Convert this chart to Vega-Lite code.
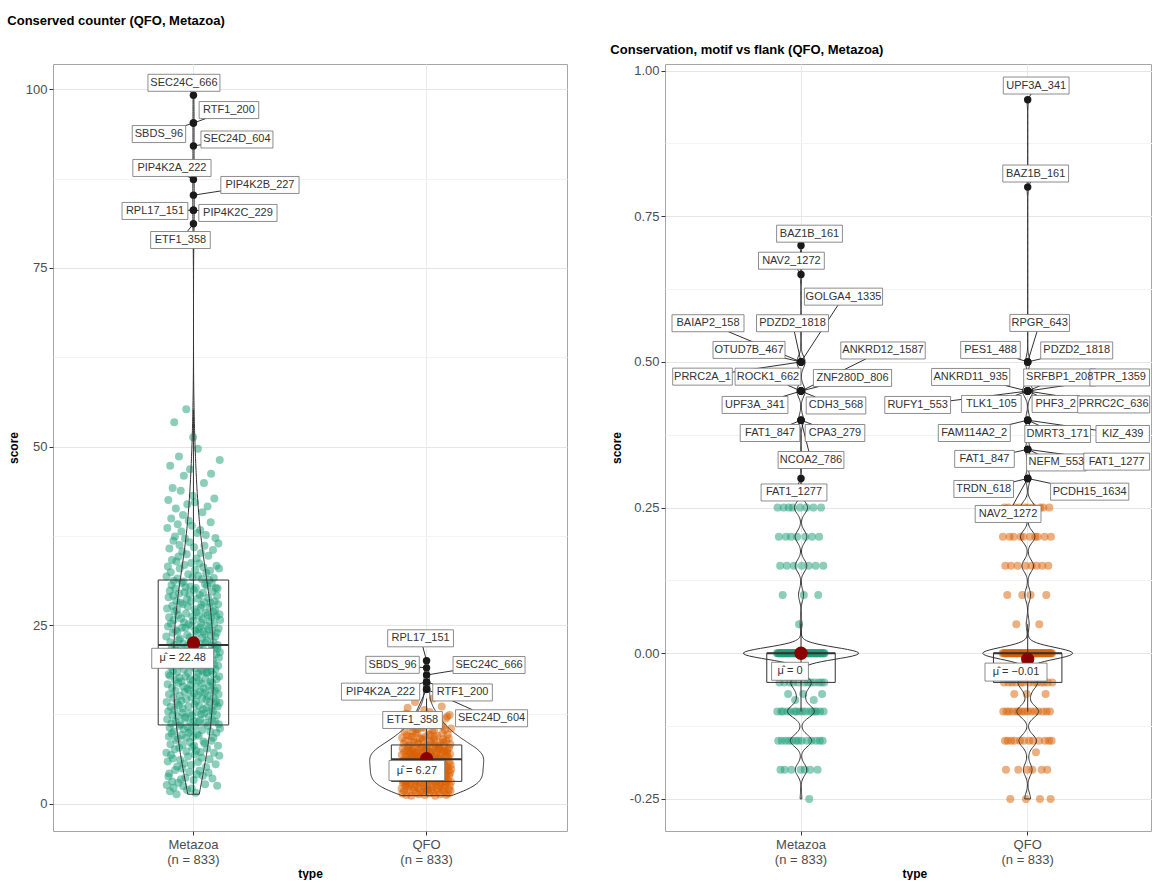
{
  "$schema": "https://vega.github.io/schema/vega-lite/v6.json",
  "background": "white",
  "padding": {"left": 6, "top": 11, "right": 0, "bottom": 0},
  "spacing": 41,
  "config": {
    "font": "Liberation Sans",
    "view": {"stroke": "#a6a6a6", "strokeWidth": 1},
    "axis": {"labelFontSize": 13, "labelColor": "#4d4d4d", "tickColor": "#333333", "tickSize": 4, "labelPadding": 2, "domain": false, "titleFontSize": 12, "titleFontWeight": "bold", "titleColor": "#000000", "gridColor": "#e8e8e8"},
    "title": {"fontSize": 13, "fontWeight": "bold", "color": "#000000", "anchor": "start", "frame": "bounds", "baseline": "bottom"}
  },
  "params": [
    {"name": "oLM", "value": {"SEC24C_666": [-9.5, -12.4], "RTF1_200": [35.5, -13], "SBDS_96": [-34.5, 11], "SEC24D_604": [43.5, -6.4], "PIP4K2A_222": [-21.5, -11.5], "PIP4K2B_227": [66.5, -10.2], "RPL17_151": [-38.5, 0.8], "PIP4K2C_229": [44.5, 2.8], "ETF1_358": [-13, 16.3]}},
    {"name": "oLQ", "value": {"RPL17_151": [-6, -22.4], "SBDS_96": [-34, -3], "SEC24C_666": [62.5, -10], "PIP4K2A_222": [-46, 9.5], "RTF1_200": [36, 10.3], "ETF1_358": [-14, 30.7], "SEC24D_604": [65, 29]}},
    {"name": "oRM", "value": {"BAZ1B_161": [8.5, -11.7], "NAV2_1272": [-9.6, -13.8], "GOLGA4_1335": [42.5, -65.3], "BAIAP2_158": [-93, -38.7], "PDZD2_1818": [-8.5, -38.7], "OTUD7B_467": [-52, -12], "PRRC2A_1": [-98.5, 14.7], "ROCK1_662": [-33, -14.4], "ANKRD12_1587": [82, -40.6], "ZNF280D_806": [51.5, -13.1], "UPF3A_341": [-46, 13.9], "CDH3_568": [35, 14.4], "FAT1_847": [-31, 12.8], "CPA3_279": [34, 12.8], "NCOA2_786": [10, 39.8], "FAT1_1277": [-7, 14]}},
    {"name": "oRQ", "value": {"UPF3A_341": [8.5, -14.2], "BAZ1B_161": [8, -13.6], "RPGR_643": [12, -39], "PES1_488": [-37.2, -12], "PDZD2_1818": [49, -11.5], "ANKRD11_935": [-57, -14.1], "SRFBP1_208": [32, -13.6], "TPR_1359": [92, -13.6], "RUFY1_553": [-110, 13.9], "TLK1_105": [-36.3, 12.9], "PHF3_2": [28, 12.9], "PRRC2C_636": [86, 13.4], "FAM114A2_2": [-53.4, 12.8], "DMRT3_171": [30, 13.8], "KIZ_439": [95, 13.8], "FAT1_847": [-43.2, 9.6], "NEFM_553": [28.7, 13.1], "FAT1_1277": [89, 12.3], "TRDN_618": [-44, 10.5], "PCDH15_1634": [62, 13.2], "NAV2_1272": [-19.6, 35.5]}},
    {"name": "mL", "value": {"Metazoa": [-10.7, 15.3], "QFO": [-9.7, 11.8]}},
    {"name": "mR", "value": {"Metazoa": [-11, 18], "QFO": [-11.7, 13]}}
  ],
  "datasets": {
    "sumL": [
      {"type": "Metazoa", "lo": 1.3, "q1": 11, "median": 22.2, "q3": 31.3, "hi": 55.2, "mean": 22.48, "mtext": "μ̂ = 22.48"},
      {"type": "QFO", "lo": 1.1, "q1": 3.1, "median": 6.2, "q3": 8.2, "hi": 14.7, "mean": 6.27, "mtext": "μ̂ = 6.27"}
    ],
    "sumR": [
      {"type": "Metazoa", "lo": -0.1, "q1": -0.05, "median": 0, "q3": 0, "hi": 0.05, "mean": 0, "mtext": "μ̂ = 0"},
      {"type": "QFO", "lo": -0.1, "q1": -0.05, "median": 0, "q3": 0, "hi": 0.05, "mean": -0.01, "mtext": "μ̂ = −0.01"}
    ],
    "lm": [
      {"score":23.4},{"score":7.1},{"score":31.8},{"score":14.2},{"score":2.6},{"score":19.5},{"score":27.3},{"score":11.8},{"score":38.6},{"score":21.1},{"score":16.7},{"score":5.9},{"score":33.2},{"score":24.8},{"score":12.9},{"score":42.5},{"score":3.8},{"score":28.9},{"score":18.1},{"score":9.4},
      {"score":15.3},{"score":26.1},{"score":4.2},{"score":35.7},{"score":20.4},{"score":10.6},{"score":29.8},{"score":1.7},{"score":17.9},{"score":47.3},{"score":22.6},{"score":8.3},{"score":13.5},{"score":32.4},{"score":25.2},{"score":6.8},{"score":19.1},{"score":39.9},{"score":11.2},{"score":30.6},
      {"score":9.8},{"score":21.9},{"score":34.1},{"score":16.2},{"score":3.1},{"score":27.7},{"score":12.4},{"score":44.2},{"score":23.9},{"score":6.3},{"score":18.6},{"score":29.1},{"score":14.8},{"score":36.8},{"score":2.2},{"score":25.7},{"score":10.1},{"score":31.2},{"score":20.8},{"score":53.4},
      {"score":26.9},{"score":13.1},{"score":7.6},{"score":22.2},{"score":37.4},{"score":17.3},{"score":4.7},{"score":30.1},{"score":15.8},{"score":24.3},{"score":11.5},{"score":41.3},{"score":19.8},{"score":8.9},{"score":28.4},{"score":33.9},{"score":1.3},{"score":21.4},{"score":14.1},{"score":27.1},
      {"score":18.4},{"score":5.2},{"score":24.1},{"score":31.5},{"score":12.2},{"score":39.1},{"score":20.1},{"score":9.1},{"score":26.4},{"score":16.9},{"score":2.9},{"score":34.6},{"score":22.9},{"score":13.8},{"score":48.6},{"score":29.4},{"score":7.8},{"score":17.6},{"score":36.2},{"score":10.9},
      {"score":32.9},{"score":15.1},{"score":23.1},{"score":6.1},{"score":19.3},{"score":28.1},{"score":11.1},{"score":43.8},{"score":21.7},{"score":3.4},{"score":25.9},{"score":14.4},{"score":38.1},{"score":17.1},{"score":9.6},{"score":30.9},{"score":24.6},{"score":4.9},{"score":12.7},{"score":35.3},
      {"score":20.6},{"score":8.2},{"score":27.9},{"score":13.3},{"score":40.4},{"score":16.4},{"score":2.4},{"score":22.4},{"score":31.1},{"score":10.4},{"score":45.9},{"score":18.8},{"score":25.4},{"score":5.6},{"score":33.4},{"score":15.6},{"score":29.6},{"score":11.9},{"score":19.6},{"score":37.1},
      {"score":12.1},{"score":24.6},{"score":3.6},{"score":30.3},{"score":17.8},{"score":9.2},{"score":26.6},{"score":21.3},{"score":55.2},{"score":14.6},{"score":7.3},{"score":34.9},{"score":19.9},{"score":28.6},{"score":1.9},{"score":23.6},{"score":41.9},{"score":16.1},{"score":10.7},{"score":27.6},
      {"score":22.1},{"score":6.6},{"score":18.3},{"score":32.1},{"score":13.6},{"score":25.1},{"score":39.6},{"score":9.9},{"score":20.3},{"score":15.9},{"score":4.4},{"score":29.3},{"score":12.6},{"score":36.6},{"score":23.3},{"score":8.6},{"score":46.8},{"score":17.4},{"score":30.4},{"score":11.3},
      {"score":16.6},{"score":28.3},{"score":10.2},{"score":21.6},{"score":5.4},{"score":33.7},{"score":14.9},{"score":24.9},{"score":2.1},{"score":19.2},{"score":38.9},{"score":12.3},{"score":26.2},{"score":7.9},{"score":31.7},{"score":22.7},{"score":43.1},{"score":17.2},{"score":9.3},{"score":51.3},
      {"score":25.6},{"score":11.6},{"score":19.4},{"score":3.3},{"score":29.9},{"score":15.4},{"score":35.9},{"score":8.1},{"score":22.9},{"score":13.9},{"score":27.2},{"score":6.9},{"score":42.2},{"score":18.9},{"score":32.7},{"score":10.8},{"score":24.2},{"score":1.5},{"score":16.3},{"score":30.2},
      {"score":14.3},{"score":21.2},{"score":7.4},{"score":26.8},{"score":17.7},{"score":34.3},{"score":12.8},{"score":4.1},{"score":23.8},{"score":37.9},{"score":9.7},{"score":20.9},{"score":28.7},{"score":15.2},{"score":49.7},{"score":5.8},{"score":31.9},{"score":18.2},{"score":11.4},{"score":24.4},
      {"score":21.8},{"score":9.5},{"score":26.3},{"score":17.2},{"score":33.6},{"score":13.7},{"score":4.6},{"score":24.7},{"score":19.7},{"score":29.2},{"score":11.7},{"score":38.3},{"score":22.3},{"score":15.7},{"score":7.2},{"score":27.4},{"score":18.7},{"score":35.1},{"score":25.3},{"score":12.5},
      {"score":16.8},{"score":27.8},{"score":6.4},{"score":20.2},{"score":31.4},{"score":14.7},{"score":23.2},{"score":10.3},{"score":40.8},{"score":18.5},{"score":25.8},{"score":3.9},{"score":29.5},{"score":13.2},{"score":21.5},{"score":33.1},{"score":8.7},{"score":24.1},{"score":16.1},{"score":44.9},
      {"score":28.2},{"score":12.6},{"score":19.6},{"score":36.1},{"score":8.4},{"score":23.7},{"score":15.5},{"score":30.7},{"score":2.7},{"score":22.5},{"score":17.5},{"score":26.7},{"score":11.3},{"score":37.6},{"score":20.7},{"score":5.1},{"score":32.3},{"score":14.5},{"score":24.9},{"score":18.3},
      {"score":13.4},{"score":22.8},{"score":30.5},{"score":7.7},{"score":18.4},{"score":26.4},{"score":41.6},{"score":15.1},{"score":21.1},{"score":10.9},{"score":28.8},{"score":19.2},{"score":34.7},{"score":4.3},{"score":24.4},{"score":16.5},{"score":12.2},{"score":31.3},{"score":20.5},{"score":27.5},
      {"score":19.9},{"score":6.2},{"score":25.5},{"score":14.2},{"score":32.6},{"score":21.3},{"score":10.1},{"score":28.1},{"score":17.1},{"score":39.4},{"score":23.5},{"score":13.1},{"score":46.2},{"score":18.6},{"score":8.8},{"score":26.1},{"score":15.9},{"score":30.8},{"score":22.1},{"score":11.7},
      {"score":24.2},{"score":16.9},{"score":3.5},{"score":29.7},{"score":20.1},{"score":12.9},{"score":35.5},{"score":18.1},{"score":26.9},{"score":9.2},{"score":22.6},{"score":14.8},{"score":31.6},{"score":7.1},{"score":25.1},{"score":19.5},{"score":42.7},{"score":13.9},{"score":28.3},{"score":21.9},
      {"score":15.8},{"score":27.1},{"score":11.5},{"score":23.4},{"score":37.2},{"score":18.8},{"score":5.5},{"score":30.2},{"score":20.9},{"score":14.3},{"score":26.2},{"score":9.9},{"score":33.3},{"score":17.4},{"score":23.9},{"score":12.4},{"score":29.1},{"score":2.5},{"score":21.7},{"score":16.2},
      {"score":30.1},{"score":13.6},{"score":22.2},{"score":8.1},{"score":27.9},{"score":19.3},{"score":36.4},{"score":15.3},{"score":24.5},{"score":11.1},{"score":20.4},{"score":32.9},{"score":17.8},{"score":6.7},{"score":26.5},{"score":14.1},{"score":48.1},{"score":21.2},{"score":10.5},{"score":25.7},
      {"score":99.2,"label":"SEC24C_666"},{"score":95.3,"label":"RTF1_200"},{"score":95.3,"label":"SBDS_96"},{"score":92.1,"label":"SEC24D_604"},{"score":87.4,"label":"PIP4K2A_222"},{"score":85.2,"label":"PIP4K2B_227"},{"score":83.1,"label":"RPL17_151"},{"score":83.1,"label":"PIP4K2C_229"},{"score":81.2,"label":"ETF1_358"}
    ],
    "lq": [
      {"score":4.3},{"score":2.1},{"score":6.8},{"score":3.5},{"score":9.2},{"score":1.4},{"score":5.6},{"score":7.7},{"score":2.9},{"score":4.8},{"score":11.3},{"score":3.2},{"score":6.1},{"score":8.4},{"score":5.1},{"score":1.8},{"score":7.2},{"score":3.9},{"score":10.1},{"score":4.6},
      {"score":5.9},{"score":3.1},{"score":8.8},{"score":2.4},{"score":6.5},{"score":4.1},{"score":12.6},{"score":1.2},{"score":7.4},{"score":5.3},{"score":2.7},{"score":9.6},{"score":3.7},{"score":6.2},{"score":4.9},{"score":13.4},{"score":2.2},{"score":7.9},{"score":5.5},{"score":3.3},
      {"score":6.1},{"score":7.3},{"score":8.2},{"score":9.4},
      {"score":2.6},{"score":6.9},{"score":4.4},{"score":1.6},{"score":8.1},{"score":5.2},{"score":3.4},{"score":10.7},{"score":7.1},{"score":2.8},{"score":4.2},{"score":6.4},{"score":1.1},{"score":9.3},{"score":5.8},{"score":3.8},{"score":7.6},{"score":11.8},{"score":4.7},{"score":6.6},
      {"score":6.8},{"score":10.1},{"score":7.7},{"score":8.9},
      {"score":7.3},{"score":1.9},{"score":5.4},{"score":3.6},{"score":8.6},{"score":2.3},{"score":6.3},{"score":4.5},{"score":14.2},{"score":3.1},{"score":5.7},{"score":9.9},{"score":2.5},{"score":7.1},{"score":4.0},{"score":1.5},{"score":6.7},{"score":3.3},{"score":10.4},{"score":5.0},
      {"score":6.4},{"score":9.8},{"score":7.1},{"score":8.5},
      {"score":3.9},{"score":6.1},{"score":2.2},{"score":8.3},{"score":4.9},{"score":1.3},{"score":7.5},{"score":5.6},{"score":12.1},{"score":3.2},{"score":6.6},{"score":2.8},{"score":9.1},{"score":4.3},{"score":5.2},{"score":1.7},{"score":7.8},{"score":3.7},{"score":11.1},{"score":4.6},
      {"score":10.6},{"score":6.6},{"score":7.9},{"score":9.1},
      {"score":5.1},{"score":2.9},{"score":7.0},{"score":4.2},{"score":1.6},{"score":8.9},{"score":3.5},{"score":6.2},{"score":2.4},{"score":10.6},{"score":5.9},{"score":3.8},{"score":13.1},{"score":4.7},{"score":6.8},{"score":1.2},{"score":7.4},{"score":2.1},{"score":9.4},{"score":5.3},
      {"score":8.0},{"score":6.2},{"score":11.2},{"score":7.5},
      {"score":2.5},{"score":4.4},{"score":6.4},{"score":1.8},{"score":8.2},{"score":3.3},{"score":5.7},{"score":7.6},{"score":2.0},{"score":4.8},{"score":11.6},{"score":3.0},{"score":6.0},{"score":9.7},{"score":5.4},{"score":1.4},{"score":7.2},{"score":3.6},{"score":12.8},{"score":4.1},
      {"score":8.7},{"score":9.6},{"score":6.9},{"score":7.2},
      {"score":6.5},{"score":3.4},{"score":1.9},{"score":5.0},{"score":8.7},{"score":2.6},{"score":4.5},{"score":7.3},{"score":3.9},{"score":10.2},{"score":6.1},{"score":2.3},{"score":5.6},{"score":14.7},{"score":4.0},{"score":1.5},{"score":7.9},{"score":3.1},{"score":9.0},{"score":5.8},
      {"score":10.3},{"score":8.3},{"score":6.5},{"score":9.3},
      {"score":4.6},{"score":1.1},{"score":6.9},{"score":3.7},{"score":5.3},{"score":8.0},{"score":2.7},{"score":4.3},{"score":7.0},{"score":11.4},{"score":3.2},{"score":5.9},{"score":2.1},{"score":9.5},{"score":6.3},{"score":1.7},{"score":4.9},{"score":12.3},{"score":3.5},{"score":7.5},
      {"score":7.8},{"score":11.7},{"score":8.1},{"score":6.3},
      {"score":3.0},{"score":5.5},{"score":2.4},{"score":7.7},{"score":4.1},{"score":6.7},{"score":1.3},{"score":8.5},{"score":3.8},{"score":5.1},{"score":10.9},{"score":2.8},{"score":6.2},{"score":4.4},{"score":13.6},{"score":1.9},{"score":7.1},{"score":3.4},{"score":9.8},{"score":5.7},
      {"score":9.0},{"score":7.4},{"score":10.8},{"score":8.6},
      {"score":6.0},{"score":2.2},{"score":4.7},{"score":8.1},{"score":1.6},{"score":5.5},{"score":3.1},{"score":7.4},{"score":10.3},{"score":2.6},{"score":4.2},{"score":6.6},{"score":3.6},{"score":11.9},{"score":5.0},{"score":1.2},{"score":8.8},{"score":4.0},{"score":2.9},{"score":7.2},
      {"score":6.7},{"score":12.2},{"score":7.6},{"score":9.7},
      {"score":5.2},{"score":3.3},{"score":1.4},{"score":6.4},{"score":4.6},{"score":9.1},{"score":2.0},{"score":7.8},{"score":3.9},{"score":5.8},{"score":12.4},{"score":2.5},{"score":6.9},{"score":4.3},{"score":8.3},{"score":1.8},{"score":5.4},{"score":3.0},{"score":10.5},{"score":4.8},
      {"score":20,"label":"RPL17_151"},{"score":19,"label":"SBDS_96"},{"score":18,"label":"SEC24C_666"},{"score":17,"label":"PIP4K2A_222"},{"score":17,"label":"RTF1_200"},{"score":16,"label":"ETF1_358"},{"score":16,"label":"SEC24D_604"}
    ],
    "rm": [
      {"score":0},{"score":-0.1},{"score":0.25},{"score":0},{"score":-0.15},{"score":0},{"score":0.2},{"score":0},{"score":-0.05},{"score":0},{"score":0.15},{"score":-0.2},{"score":0},{"score":-0.1},{"score":0},
      {"score":-0.15},{"score":0},{"score":0},{"score":0.1},{"score":-0.1},{"score":0},{"score":0.25},{"score":0},{"score":-0.05},{"score":-0.2},{"score":0},{"score":0},{"score":-0.15},{"score":0.2},{"score":0},
      {"score":0},{"score":0.15},{"score":0},{"score":-0.1},{"score":0},{"score":-0.07},{"score":0},{"score":0.25},{"score":-0.15},{"score":0},{"score":-0.05},{"score":0},{"score":-0.1},{"score":0},{"score":0.2},
      {"score":-0.2},{"score":0},{"score":0},{"score":-0.15},{"score":0.25},{"score":0},{"score":-0.05},{"score":0},{"score":0.15},{"score":0},{"score":-0.1},{"score":0},{"score":-0.08},{"score":0},{"score":-0.15},
      {"score":0},{"score":-0.1},{"score":0},{"score":0.2},{"score":0},{"score":0},{"score":-0.05},{"score":-0.15},{"score":0},{"score":0.05},{"score":0},{"score":-0.1},{"score":0.25},{"score":0},{"score":-0.2},
      {"score":0},{"score":0},{"score":-0.15},{"score":0.15},{"score":0},{"score":-0.1},{"score":0},{"score":-0.07},{"score":0},{"score":0.1},{"score":-0.05},{"score":0},{"score":-0.2},{"score":0},{"score":0.2},
      {"score":-0.1},{"score":0},{"score":0.25},{"score":0},{"score":-0.15},{"score":0},{"score":0},{"score":-0.05},{"score":0},{"score":0.15},{"score":0},{"score":-0.25},{"score":0},{"score":-0.1},{"score":-0.2},
      {"score":0},{"score":-0.05},{"score":0},{"score":-0.15},{"score":0},{"score":0.2},{"score":-0.1},{"score":0},{"score":0},{"score":0.25},{"score":-0.08},{"score":0},{"score":-0.05},{"score":0},{"score":-0.1},
      {"score":0},{"score":0.15},{"score":-0.15},{"score":0},{"score":-0.1},{"score":0},{"score":0},{"score":-0.2},{"score":0},{"score":0.1},{"score":-0.05},{"score":0},{"score":0.2},{"score":0},{"score":-0.15},
      {"score":-0.1},{"score":0},{"score":0},{"score":0.25},{"score":-0.05},{"score":0},{"score":-0.07},{"score":0},{"score":-0.15},{"score":0},{"score":0.15},{"score":-0.1},{"score":0},{"score":-0.05},{"score":0},
      {"score":0.7,"label":"BAZ1B_161"},{"score":0.65,"label":"NAV2_1272"},{"score":0.5,"label":"GOLGA4_1335"},{"score":0.5,"label":"BAIAP2_158"},{"score":0.5,"label":"PDZD2_1818"},{"score":0.5,"label":"OTUD7B_467"},{"score":0.5,"label":"PRRC2A_1"},{"score":0.45,"label":"ROCK1_662"},{"score":0.45,"label":"ANKRD12_1587"},{"score":0.45,"label":"ZNF280D_806"},{"score":0.45,"label":"UPF3A_341"},{"score":0.45,"label":"CDH3_568"},{"score":0.4,"label":"FAT1_847"},{"score":0.4,"label":"CPA3_279"},{"score":0.4,"label":"NCOA2_786"},{"score":0.3,"label":"FAT1_1277"}
    ],
    "rq": [
      {"score":0},{"score":0.2},{"score":-0.1},{"score":0},{"score":-0.05},{"score":0.25},{"score":0},{"score":-0.15},{"score":0.15},{"score":0},{"score":-0.2},{"score":0},{"score":-0.1},{"score":0},{"score":0.1},
      {"score":-0.15},{"score":0},{"score":0.25},{"score":-0.05},{"score":0},{"score":-0.1},{"score":0.2},{"score":0},{"score":-0.25},{"score":0},{"score":0.15},{"score":-0.15},{"score":0},{"score":-0.05},{"score":0},
      {"score":0},{"score":-0.1},{"score":0},{"score":0.2},{"score":0},{"score":-0.07},{"score":-0.15},{"score":0},{"score":0.25},{"score":0},{"score":-0.05},{"score":0.05},{"score":0},{"score":-0.1},{"score":0},
      {"score":0.15},{"score":0},{"score":-0.2},{"score":0},{"score":-0.1},{"score":0.25},{"score":0},{"score":-0.15},{"score":0},{"score":0.2},{"score":-0.05},{"score":0},{"score":-0.1},{"score":0},{"score":0.1},
      {"score":0},{"score":-0.05},{"score":0.2},{"score":0},{"score":-0.15},{"score":0},{"score":-0.1},{"score":0.25},{"score":0},{"score":0.15},{"score":-0.25},{"score":0},{"score":-0.07},{"score":0},{"score":-0.2},
      {"score":-0.1},{"score":0},{"score":0.25},{"score":0},{"score":-0.05},{"score":-0.15},{"score":0},{"score":0.2},{"score":0},{"score":0.1},{"score":-0.1},{"score":0},{"score":0.15},{"score":0},{"score":-0.2},
      {"score":0},{"score":-0.15},{"score":0},{"score":0.25},{"score":-0.05},{"score":0},{"score":-0.1},{"score":0},{"score":0.2},{"score":0},{"score":-0.17},{"score":0},{"score":0.15},{"score":-0.05},{"score":0},
      {"score":0.2},{"score":0},{"score":-0.1},{"score":0},{"score":-0.15},{"score":0.05},{"score":0},{"score":-0.25},{"score":0.25},{"score":0},{"score":-0.05},{"score":0},{"score":-0.2},{"score":0},{"score":0.15},
      {"score":0},{"score":-0.1},{"score":0.25},{"score":0},{"score":-0.05},{"score":0},{"score":0.2},{"score":-0.15},{"score":0},{"score":-0.07},{"score":0},{"score":0.1},{"score":-0.1},{"score":0},{"score":-0.2},
      {"score":-0.05},{"score":0},{"score":0.15},{"score":0},{"score":-0.15},{"score":0.25},{"score":0},{"score":-0.1},{"score":0},{"score":-0.25},{"score":0.2},{"score":0},{"score":-0.15},{"score":0},{"score":-0.05},
      {"score":0.95,"label":"UPF3A_341"},{"score":0.8,"label":"BAZ1B_161"},{"score":0.5,"label":"RPGR_643"},{"score":0.5,"label":"PES1_488"},{"score":0.5,"label":"PDZD2_1818"},{"score":0.45,"label":"ANKRD11_935"},{"score":0.45,"label":"SRFBP1_208"},{"score":0.45,"label":"TPR_1359"},{"score":0.45,"label":"RUFY1_553"},{"score":0.45,"label":"TLK1_105"},{"score":0.45,"label":"PHF3_2"},{"score":0.45,"label":"PRRC2C_636"},{"score":0.4,"label":"FAM114A2_2"},{"score":0.4,"label":"DMRT3_171"},{"score":0.4,"label":"KIZ_439"},{"score":0.35,"label":"FAT1_847"},{"score":0.35,"label":"NEFM_553"},{"score":0.35,"label":"FAT1_1277"},{"score":0.3,"label":"TRDN_618"},{"score":0.3,"label":"PCDH15_1634"},{"score":0.3,"label":"NAV2_1272"}
    ]
  },
  "hconcat": [
    {
      "width": 514, "height": 767,
      "title": {"text": "Conserved counter (QFO, Metazoa)", "offset": 36},
      "resolve": {"scale": {"x": "independent", "xOffset": "independent"}},
      "layer": [
        {"data": {"name": "lm"},
         "transform": [{"filter": "!isValid(datum.label)"}, {"window": [{"op": "row_number", "as": "k"}]}],
         "mark": {"type": "circle", "size": 64, "opacity": 0.5, "color": "#1b9e77"},
         "encoding": {
           "x": {"datum": "Metazoa", "type": "nominal", "scale": {"type": "band", "domain": ["Metazoa", "QFO"], "paddingInner": 0.6977, "paddingOuter": 0.4513},
                 "axis": {"title": "type", "grid": true, "gridColor": "#ebebeb", "bandPosition": 0.5, "labelAngle": 0, "labelExpr": "[datum.label, '(n = 833)']", "labelLineHeight": 15.5, "labelPadding": 3, "titlePadding": 2}},
           "xOffset": {"field": "k", "type": "nominal", "scale": {"range": [8, 62]}},
           "y": {"field": "score", "type": "quantitative", "scale": {"domain": [-3.85, 103.57], "zero": false, "nice": false},
                 "axis": {"title": "score", "values": [0, 12.5, 25, 37.5, 50, 62.5, 75, 87.5, 100], "labelExpr": "datum.value % 25 == 0 ? datum.label : ''", "labelOverlap": false, "titlePadding": 5,
                          "gridColor": {"condition": {"test": "datum.value % 25 != 0", "value": "#f3f3f3"}, "value": "#e6e6e6"},
                          "tickOpacity": {"condition": {"test": "datum.value % 25 != 0", "value": 0}, "value": 1}}}}},
        {"data": {"name": "lq"},
         "transform": [{"filter": "!isValid(datum.label)"}, {"window": [{"op": "row_number", "as": "k"}]}],
         "mark": {"type": "circle", "size": 64, "opacity": 0.5, "color": "#d95f02"},
         "encoding": {
           "x": {"datum": "QFO", "type": "nominal", "scale": {"type": "band", "domain": ["Metazoa", "QFO"], "paddingInner": 0.6977, "paddingOuter": 0.4513}, "axis": null},
           "xOffset": {"field": "k", "type": "nominal", "scale": {"range": [10, 60]}},
           "y": {"field": "score", "type": "quantitative", "scale": {"domain": [-3.85, 103.57], "zero": false, "nice": false}}}},
        {"data": {"name": "sumL"},
         "encoding": {"x": {"field": "type", "type": "nominal", "scale": {"type": "band", "domain": ["Metazoa", "QFO"], "paddingInner": 0.6977, "paddingOuter": 0.4513}, "axis": null}},
         "layer": [
           {"mark": {"type": "rule", "color": "#333333", "strokeWidth": 1},
            "encoding": {"y": {"field": "lo", "type": "quantitative", "scale": {"domain": [-3.85, 103.57], "zero": false, "nice": false}}, "y2": {"field": "hi"}}},
           {"mark": {"type": "bar", "fill": "transparent", "stroke": "#333333", "strokeWidth": 1},
            "encoding": {"y": {"field": "q1", "type": "quantitative", "scale": {"domain": [-3.85, 103.57], "zero": false, "nice": false}}, "y2": {"field": "q3"}}},
           {"mark": {"type": "tick", "size": 70.5, "thickness": 2, "color": "#333333", "opacity": 1},
            "encoding": {"y": {"field": "median", "type": "quantitative", "scale": {"domain": [-3.85, 103.57], "zero": false, "nice": false}}}}
         ]},
        {"data": {"name": "lm"},
         "transform": [{"density": "score", "bandwidth": 4, "extent": [1.3, 99.2], "steps": 300}],
         "mark": {"type": "area", "orient": "horizontal", "fill": "transparent", "stroke": "#333333", "strokeWidth": 1},
         "encoding": {
           "y": {"field": "value", "type": "quantitative", "scale": {"domain": [-3.85, 103.57], "zero": false, "nice": false}},
           "x": {"field": "density", "type": "quantitative", "stack": "center", "scale": {"range": [120.5, 160.5], "zero": true, "nice": false}, "axis": null}}},
        {"data": {"name": "lq"},
         "transform": [{"density": "score", "bandwidth": 1.1, "extent": [1.1, 20], "steps": 200}],
         "mark": {"type": "area", "orient": "horizontal", "fill": "transparent", "stroke": "#333333", "strokeWidth": 1},
         "encoding": {
           "y": {"field": "value", "type": "quantitative", "scale": {"domain": [-3.85, 103.57], "zero": false, "nice": false}},
           "x": {"field": "density", "type": "quantitative", "stack": "center", "scale": {"range": [316.7, 430.7], "zero": true, "nice": false}, "axis": null}}},
        {"layer": [
          {"data": {"name": "sumL"},
           "encoding": {"x": {"field": "type", "type": "nominal", "scale": {"type": "band", "domain": ["Metazoa", "QFO"], "paddingInner": 0.6977, "paddingOuter": 0.4513}, "axis": null},
                        "y": {"field": "mean", "type": "quantitative", "scale": {"domain": [-3.85, 103.57], "zero": false, "nice": false}}},
           "layer": [
             {"mark": {"type": "circle", "size": 177, "color": "#8b0000", "opacity": 1}},
             {"mark": {"type": "point", "filled": true, "fill": "#ffffff", "stroke": "#6e6e6e", "strokeWidth": 0.8, "opacity": 1, "size": 4,
                       "shape": {"expr": "'M'+(0.5-3.15*length(datum.mtext))+',-10H'+(3.15*length(datum.mtext)-0.5)+'V10H'+(0.5-3.15*length(datum.mtext))+'Z'"},
                       "xOffset": {"expr": "mL[datum.type][0]"}, "yOffset": {"expr": "mL[datum.type][1]"}}},
             {"mark": {"type": "text", "fontSize": 11, "color": "#333333", "dx": {"expr": "mL[datum.type][0]"}, "dy": {"expr": "mL[datum.type][1]"}},
              "encoding": {"text": {"field": "mtext"}}}
           ]},
          {"data": {"name": "lm"},
           "transform": [{"filter": "isValid(datum.label)"}],
           "encoding": {"x": {"datum": "Metazoa", "type": "nominal", "scale": {"type": "band", "domain": ["Metazoa", "QFO"], "paddingInner": 0.6977, "paddingOuter": 0.4513}, "axis": null},
                        "y": {"field": "score", "type": "quantitative", "scale": {"domain": [-3.85, 103.57], "zero": false, "nice": false}}},
           "layer": [
             {"mark": {"type": "circle", "size": 55, "color": "#1a1a1a", "opacity": 1}},
             {"mark": {"type": "rule", "color": "#1a1a1a", "strokeWidth": 0.9,
                       "x2Offset": {"expr": "oLM[datum.label][0]*(1-min(1,(3.1*length(datum.label)+5)/abs(oLM[datum.label][0]),8.5/abs(oLM[datum.label][1])))"},
                       "y2Offset": {"expr": "oLM[datum.label][1]*(1-min(1,(3.1*length(datum.label)+5)/abs(oLM[datum.label][0]),8.5/abs(oLM[datum.label][1])))"}},
              "encoding": {"x2": {"datum": "Metazoa"}, "y2": {"field": "score"}}},
             {"mark": {"type": "point", "filled": true, "fill": "#ffffff", "stroke": "#707070", "strokeWidth": 0.8, "opacity": 1, "size": 4,
                       "shape": {"expr": "'M'+(-3.1*length(datum.label)-5)+',-8.5H'+(3.1*length(datum.label)+5)+'V8.5H'+(-3.1*length(datum.label)-5)+'Z'"},
                       "xOffset": {"expr": "oLM[datum.label][0]"}, "yOffset": {"expr": "oLM[datum.label][1]"}}},
             {"mark": {"type": "text", "fontSize": 11, "color": "#333333", "dx": {"expr": "oLM[datum.label][0]"}, "dy": {"expr": "oLM[datum.label][1]"}},
              "encoding": {"text": {"field": "label"}}}
           ]},
          {"data": {"name": "lq"},
           "transform": [{"filter": "isValid(datum.label)"}],
           "encoding": {"x": {"datum": "QFO", "type": "nominal", "scale": {"type": "band", "domain": ["Metazoa", "QFO"], "paddingInner": 0.6977, "paddingOuter": 0.4513}, "axis": null},
                        "y": {"field": "score", "type": "quantitative", "scale": {"domain": [-3.85, 103.57], "zero": false, "nice": false}}},
           "layer": [
             {"mark": {"type": "circle", "size": 55, "color": "#1a1a1a", "opacity": 1}},
             {"mark": {"type": "rule", "color": "#1a1a1a", "strokeWidth": 0.9,
                       "x2Offset": {"expr": "oLQ[datum.label][0]*(1-min(1,(3.1*length(datum.label)+5)/abs(oLQ[datum.label][0]),8.5/abs(oLQ[datum.label][1])))"},
                       "y2Offset": {"expr": "oLQ[datum.label][1]*(1-min(1,(3.1*length(datum.label)+5)/abs(oLQ[datum.label][0]),8.5/abs(oLQ[datum.label][1])))"}},
              "encoding": {"x2": {"datum": "QFO"}, "y2": {"field": "score"}}},
             {"mark": {"type": "point", "filled": true, "fill": "#ffffff", "stroke": "#707070", "strokeWidth": 0.8, "opacity": 1, "size": 4,
                       "shape": {"expr": "'M'+(-3.1*length(datum.label)-5)+',-8.5H'+(3.1*length(datum.label)+5)+'V8.5H'+(-3.1*length(datum.label)-5)+'Z'"},
                       "xOffset": {"expr": "oLQ[datum.label][0]"}, "yOffset": {"expr": "oLQ[datum.label][1]"}}},
             {"mark": {"type": "text", "fontSize": 11, "color": "#333333", "dx": {"expr": "oLQ[datum.label][0]"}, "dy": {"expr": "oLQ[datum.label][1]"}},
              "encoding": {"text": {"field": "label"}}}
           ]}
        ]}
      ]
    },
    {
      "width": 486, "height": 767,
      "title": {"text": ["", "Conservation, motif vs flank (QFO, Metazoa)"], "lineHeight": 32, "offset": 7},
      "resolve": {"scale": {"x": "independent", "xOffset": "independent"}},
      "layer": [
        {"data": {"name": "rm"},
         "transform": [{"filter": "!isValid(datum.label)"}, {"window": [{"op": "row_number", "as": "k"}]}],
         "mark": {"type": "circle", "size": 64, "opacity": 0.5, "color": "#1b9e77"},
         "encoding": {
           "x": {"datum": "Metazoa", "type": "nominal", "scale": {"type": "band", "domain": ["Metazoa", "QFO"], "range": [0, 498.7], "paddingInner": 0.698, "paddingOuter": 0.449},
                 "axis": {"title": "type", "grid": true, "gridColor": "#ebebeb", "bandPosition": 0.5, "labelAngle": 0, "labelExpr": "[datum.label, '(n = 833)']", "labelLineHeight": 15.5, "labelPadding": 3, "titlePadding": 2}},
           "xOffset": {"field": "k", "type": "nominal", "scale": {"range": [10, 58]}},
           "y": {"field": "score", "type": "quantitative", "scale": {"domain": [-0.305, 1.0113], "zero": false, "nice": false},
                 "axis": {"title": "score", "values": [-0.25, -0.125, 0, 0.125, 0.25, 0.375, 0.5, 0.625, 0.75, 0.875, 1], "labelExpr": "abs(datum.value*4-round(datum.value*4)) < 0.01 ? replace(format(datum.value, '.2f'), '−', '-') : ''", "labelOverlap": false, "titlePadding": 6,
                          "gridColor": {"condition": {"test": "abs(datum.value*4-round(datum.value*4)) > 0.01", "value": "#f3f3f3"}, "value": "#e6e6e6"},
                          "tickOpacity": {"condition": {"test": "abs(datum.value*4-round(datum.value*4)) > 0.01", "value": 0}, "value": 1}}}}},
        {"data": {"name": "rq"},
         "transform": [{"filter": "!isValid(datum.label)"}, {"window": [{"op": "row_number", "as": "k"}]}],
         "mark": {"type": "circle", "size": 64, "opacity": 0.5, "color": "#d95f02"},
         "encoding": {
           "x": {"datum": "QFO", "type": "nominal", "scale": {"type": "band", "domain": ["Metazoa", "QFO"], "range": [0, 498.7], "paddingInner": 0.698, "paddingOuter": 0.449}, "axis": null},
           "xOffset": {"field": "k", "type": "nominal", "scale": {"range": [9, 59]}},
           "y": {"field": "score", "type": "quantitative", "scale": {"domain": [-0.305, 1.0113], "zero": false, "nice": false}}}},
        {"data": {"name": "sumR"},
         "encoding": {"x": {"field": "type", "type": "nominal", "scale": {"type": "band", "domain": ["Metazoa", "QFO"], "range": [0, 498.7], "paddingInner": 0.698, "paddingOuter": 0.449}, "axis": null}},
         "layer": [
           {"mark": {"type": "rule", "color": "#333333", "strokeWidth": 1},
            "encoding": {"y": {"field": "lo", "type": "quantitative", "scale": {"domain": [-0.305, 1.0113], "zero": false, "nice": false}}, "y2": {"field": "hi"}}},
           {"mark": {"type": "bar", "fill": "transparent", "stroke": "#333333", "strokeWidth": 1},
            "encoding": {"y": {"field": "q1", "type": "quantitative", "scale": {"domain": [-0.305, 1.0113], "zero": false, "nice": false}}, "y2": {"field": "q3"}}},
           {"mark": {"type": "tick", "size": 68.5, "thickness": 2, "color": "#333333", "opacity": 1},
            "encoding": {"y": {"field": "median", "type": "quantitative", "scale": {"domain": [-0.305, 1.0113], "zero": false, "nice": false}}}}
         ]},
        {"data": {"name": "rm"},
         "transform": [{"density": "score", "bandwidth": 0.01, "extent": [-0.25, 0.7], "steps": 500}],
         "mark": {"type": "area", "orient": "horizontal", "fill": "transparent", "stroke": "#333333", "strokeWidth": 1},
         "encoding": {
           "y": {"field": "value", "type": "quantitative", "scale": {"domain": [-0.305, 1.0113], "zero": false, "nice": false}},
           "x": {"field": "density", "type": "quantitative", "stack": "center", "scale": {"range": [78.5, 193.5], "zero": true, "nice": false}, "axis": null}}},
        {"data": {"name": "rq"},
         "transform": [{"density": "score", "bandwidth": 0.01, "extent": [-0.25, 0.95], "steps": 600}],
         "mark": {"type": "area", "orient": "horizontal", "fill": "transparent", "stroke": "#333333", "strokeWidth": 1},
         "encoding": {
           "y": {"field": "value", "type": "quantitative", "scale": {"domain": [-0.305, 1.0113], "zero": false, "nice": false}},
           "x": {"field": "density", "type": "quantitative", "stack": "center", "scale": {"range": [317.7, 407.7], "zero": true, "nice": false}, "axis": null}}},
        {"layer": [
          {"data": {"name": "sumR"},
           "encoding": {"x": {"field": "type", "type": "nominal", "scale": {"type": "band", "domain": ["Metazoa", "QFO"], "range": [0, 498.7], "paddingInner": 0.698, "paddingOuter": 0.449}, "axis": null},
                        "y": {"field": "mean", "type": "quantitative", "scale": {"domain": [-0.305, 1.0113], "zero": false, "nice": false}}},
           "layer": [
             {"mark": {"type": "circle", "size": 177, "color": "#8b0000", "opacity": 1}},
             {"mark": {"type": "point", "filled": true, "fill": "#ffffff", "stroke": "#6e6e6e", "strokeWidth": 0.8, "opacity": 1, "size": 4,
                       "shape": {"expr": "'M'+(0.5-3.15*length(datum.mtext))+',-9H'+(3.15*length(datum.mtext)-0.5)+'V9H'+(0.5-3.15*length(datum.mtext))+'Z'"},
                       "xOffset": {"expr": "mR[datum.type][0]"}, "yOffset": {"expr": "mR[datum.type][1]"}}},
             {"mark": {"type": "text", "fontSize": 11, "color": "#333333", "dx": {"expr": "mR[datum.type][0]"}, "dy": {"expr": "mR[datum.type][1]"}},
              "encoding": {"text": {"field": "mtext"}}}
           ]},
          {"data": {"name": "rm"},
           "transform": [{"filter": "isValid(datum.label)"}],
           "encoding": {"x": {"datum": "Metazoa", "type": "nominal", "scale": {"type": "band", "domain": ["Metazoa", "QFO"], "range": [0, 498.7], "paddingInner": 0.698, "paddingOuter": 0.449}, "axis": null},
                        "y": {"field": "score", "type": "quantitative", "scale": {"domain": [-0.305, 1.0113], "zero": false, "nice": false}}},
           "layer": [
             {"mark": {"type": "circle", "size": 55, "color": "#1a1a1a", "opacity": 1}},
             {"mark": {"type": "rule", "color": "#1a1a1a", "strokeWidth": 0.9, "clip": true,
                       "x2Offset": {"expr": "oRM[datum.label][0]*(1-min(1,(3.1*length(datum.label)+5)/abs(oRM[datum.label][0]),8.5/abs(oRM[datum.label][1])))"},
                       "y2Offset": {"expr": "oRM[datum.label][1]*(1-min(1,(3.1*length(datum.label)+5)/abs(oRM[datum.label][0]),8.5/abs(oRM[datum.label][1])))"}},
              "encoding": {"x2": {"datum": "Metazoa"}, "y2": {"field": "score"}}},
             {"mark": {"type": "point", "filled": true, "fill": "#ffffff", "stroke": "#707070", "strokeWidth": 0.8, "opacity": 1, "size": 4, "clip": true,
                       "shape": {"expr": "'M'+(-3.1*length(datum.label)-5)+',-8.5H'+(3.1*length(datum.label)+5)+'V8.5H'+(-3.1*length(datum.label)-5)+'Z'"},
                       "xOffset": {"expr": "oRM[datum.label][0]"}, "yOffset": {"expr": "oRM[datum.label][1]"}}},
             {"mark": {"type": "text", "fontSize": 11, "color": "#333333", "clip": true, "dx": {"expr": "oRM[datum.label][0]"}, "dy": {"expr": "oRM[datum.label][1]"}},
              "encoding": {"text": {"field": "label"}}}
           ]},
          {"data": {"name": "rq"},
           "transform": [{"filter": "isValid(datum.label)"}],
           "encoding": {"x": {"datum": "QFO", "type": "nominal", "scale": {"type": "band", "domain": ["Metazoa", "QFO"], "range": [0, 498.7], "paddingInner": 0.698, "paddingOuter": 0.449}, "axis": null},
                        "y": {"field": "score", "type": "quantitative", "scale": {"domain": [-0.305, 1.0113], "zero": false, "nice": false}}},
           "layer": [
             {"mark": {"type": "circle", "size": 55, "color": "#1a1a1a", "opacity": 1}},
             {"mark": {"type": "rule", "color": "#1a1a1a", "strokeWidth": 0.9, "clip": true,
                       "x2Offset": {"expr": "oRQ[datum.label][0]*(1-min(1,(3.1*length(datum.label)+5)/abs(oRQ[datum.label][0]),8.5/abs(oRQ[datum.label][1])))"},
                       "y2Offset": {"expr": "oRQ[datum.label][1]*(1-min(1,(3.1*length(datum.label)+5)/abs(oRQ[datum.label][0]),8.5/abs(oRQ[datum.label][1])))"}},
              "encoding": {"x2": {"datum": "QFO"}, "y2": {"field": "score"}}},
             {"mark": {"type": "point", "filled": true, "fill": "#ffffff", "stroke": "#707070", "strokeWidth": 0.8, "opacity": 1, "size": 4, "clip": true,
                       "shape": {"expr": "'M'+(-3.1*length(datum.label)-5)+',-8.5H'+(3.1*length(datum.label)+5)+'V8.5H'+(-3.1*length(datum.label)-5)+'Z'"},
                       "xOffset": {"expr": "oRQ[datum.label][0]"}, "yOffset": {"expr": "oRQ[datum.label][1]"}}},
             {"mark": {"type": "text", "fontSize": 11, "color": "#333333", "clip": true, "dx": {"expr": "oRQ[datum.label][0]"}, "dy": {"expr": "oRQ[datum.label][1]"}},
              "encoding": {"text": {"field": "label"}}}
           ]}
        ]}
      ]
    }
  ]
}
